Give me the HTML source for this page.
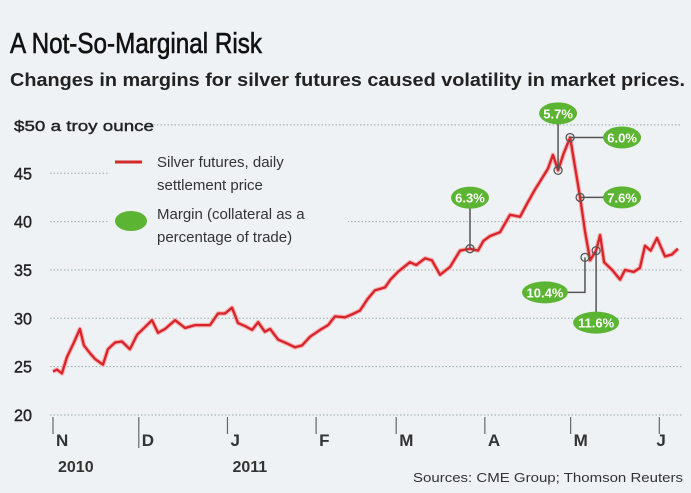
<!DOCTYPE html>
<html><head><meta charset="utf-8"><style>
html,body{margin:0;padding:0;background:#eef2f5;}
svg{display:block;font-family:"Liberation Sans",sans-serif;}
</style></head><body>
<svg width="691" height="493" viewBox="0 0 691 493" id="chart">
<rect width="691" height="493" fill="#eef2f5"/>
<text x="10" y="53" font-size="29" textLength="252" lengthAdjust="spacingAndGlyphs" fill="#111" stroke="#111" stroke-width="0.6">A Not-So-Marginal Risk</text>
<text x="10" y="86" font-size="18" font-weight="bold" textLength="675" lengthAdjust="spacingAndGlyphs" fill="#222">Changes in margins for silver futures caused volatility in market prices.</text>
<g id="grid"></g><g id="xaxis"></g><g id="legend"></g><g id="series"></g><g id="ann"></g>
<text x="683" y="482" font-size="13" text-anchor="end" textLength="270" lengthAdjust="spacingAndGlyphs" fill="#333">Sources: CME Group; Thomson Reuters</text>
</svg>
<script>
const yTicks=[20,25,30,35,40,45,50];
const yTickLabels=["20","25","30","35","40","45","$50 a troy ounce"];
const monthDays=[0,30,61,92,120,151,181,212];
const monthLabels=["N","D","J","F","M","A","M","J"];
const yearLabels=[["2010",0],["2011",61]];
const days=[0,1.4,3.1,4.9,7.3,9.4,10.8,12.9,14.7,17.5,19.2,21.7,24.1,26.9,29.4,31.5,34.6,36.7,39.2,42.7,46.2,49.7,54.9,57.7,60.1,62.6,64.7,67.1,69.6,71.7,74.1,75.9,78.7,81.8,84.6,87.1,89.9,93.4,96.2,98.6,102.1,104.5,107.3,110,112.6,116.1,118,120.6,124.8,127,130.1,132.5,135.3,138.8,142.3,145.8,148.6,150.5,152.8,156.3,159.8,163.3,166,168.5,171,173.1,174.8,176.6,178.5,180.8,184.3,186,187.8,189.9,191.3,192.7,195.5,198.3,200,203,205.2,207,209,211.2,214,216.4,218.5];
const prices=[24.5,24.7,24.3,26,27.5,28.9,27.2,26.4,25.8,25.2,26.8,27.5,27.6,26.8,28.3,28.9,29.8,28.5,28.9,29.8,29.0,29.3,29.3,30.5,30.5,31.1,29.5,29.2,28.8,29.6,28.6,28.9,27.8,27.4,27.0,27.2,28.1,28.8,29.3,30.2,30.1,30.4,30.8,32.0,32.9,33.2,34.0,34.8,35.8,35.5,36.2,36.0,34.5,35.3,37.0,37.2,37.0,38.0,38.5,38.9,40.7,40.5,42.0,43.3,44.5,45.5,46.9,45.3,47.0,48.7,42.5,39,36.0,37.0,38.6,35.8,35.0,34.0,35.0,34.8,35.2,37.5,37.0,38.3,36.4,36.6,37.2];
const marginDays=[145.8,176.6,180.8,184.3,186,189.9];
const marginPrices=[37.2,45.3,48.7,42.5,36.3,37.0];
const marginLabels=["6.3%","5.7%","6.0%","7.6%","10.4%","11.6%"];
const NS="http://www.w3.org/2000/svg";
const X=d=>53+d*2.86, Y=v=>415-(v-20)*9.67;
function mk(tag,attrs,parent,text){const e=document.createElementNS(NS,tag);for(const k in attrs)e.setAttribute(k,attrs[k]);if(text!==undefined)e.textContent=text;parent.appendChild(e);return e;}
const grid=document.getElementById('grid');
yTicks.forEach((t,i)=>{
 const y=Y(t);
 const x0=i==6?150:50;
 const l=mk('line',{x1:x0,x2:682,y1:y,y2:y,stroke:'#9aa',"stroke-width":1,"stroke-dasharray":"1.5 2"},grid);
 
 
 const tx=mk('text',{x:14,y:y+6,"font-size":i==6?15:17,fill:'#222',stroke:'#222',"stroke-width":0.4},grid,yTickLabels[i]);
 if(i==6){tx.setAttribute('textLength','140');tx.setAttribute('lengthAdjust','spacingAndGlyphs');}
 else{tx.setAttribute('textLength','18');tx.setAttribute('lengthAdjust','spacingAndGlyphs');}
 
 
});
const lg=document.getElementById('legend');
const cov=mk('rect',{x:108,y:150,width:240,height:100,fill:'#eef2f5'},lg);


const cov2=mk('rect',{x:108,y:165,width:580,height:15,fill:'#eef2f5'},lg);


const ll=mk('line',{x1:115,x2:142,y1:162,y2:162,stroke:'#d42a2a',"stroke-width":3},lg);


const ge=mk('ellipse',{cx:131,cy:221,rx:16,ry:10,fill:'#5cb532'},lg);


[["Silver futures, daily",167],["settlement price",190],["Margin (collateral as a",219],["percentage of trade)",242]].forEach((a,i)=>{
 const t=mk('text',{x:157,y:a[1],"font-size":15,fill:'#333'},lg,a[0]);
 
 
});
const xa=document.getElementById('xaxis');
monthDays.forEach((d,i)=>{
 const x=X(d);
 const tl=mk('line',{x1:x,x2:x,y1:417,y2:(i==1?448:434),stroke:'#666',"stroke-width":1.2},xa);
 
 
 const t=mk('text',{x:x+(i==7?-3:3),y:446,"font-size":17,"font-weight":"bold",fill:'#333'},xa,monthLabels[i]);
 
 
});
yearLabels.forEach(a=>{
 const t=mk('text',{x:X(a[1])+5,y:472,"font-size":16,"font-weight":"bold",fill:'#333'},xa,a[0]);
 
 
});
const sg=document.getElementById('series');
const pts=days.map((d,i)=>X(d).toFixed(1)+','+Y(prices[i]).toFixed(1)).join(' ');
const glow=mk('polyline',{points:pts,fill:'none',stroke:'#f4b0b0',"stroke-width":4.5,"stroke-linejoin":"round"},sg);


const pl=mk('polyline',{points:pts,fill:'none',stroke:'#d8232a',"stroke-width":2.3,"stroke-linejoin":"round"},sg);


const ann=document.getElementById('ann');
const bub=[{dx:0,dy:-51,path:'v'},{dx:0,dy:-57,path:'v'},{dx:52,dy:0,path:'h'},{dx:42,dy:0,path:'h'},{dx:-40,dy:35,path:'L'},{dx:0,dy:72,path:'v'}];
marginDays.forEach((d,i)=>{
 const x=X(d),y=Y(marginPrices[i]);const b=bub[i];const bx=x+b.dx,by=y+b.dy;
 let p;
 if(b.path=='v')p=`M${x},${y} V${by}`;else if(b.path=='h')p=`M${x},${y} H${bx}`;else p=`M${x},${y} V${by} H${bx}`;
 const c=mk('path',{d:p,stroke:'#555',"stroke-width":1.5,fill:'none'},ann);
 
 
 const dot=mk('circle',{cx:x,cy:y,r:4,fill:'none',stroke:'#555',"stroke-width":1.3},ann);
 
 
 const w=marginLabels[i].length>4?23:19;
 const e=mk('ellipse',{cx:bx,cy:by,rx:w,ry:11,fill:'#5cb532'},ann);
 
 
 const t=mk('text',{x:bx,y:by+5,"font-size":13,"font-weight":"bold","text-anchor":"middle",fill:'#fff'},ann,marginLabels[i]);
 
 
});
</script>
</body></html>
